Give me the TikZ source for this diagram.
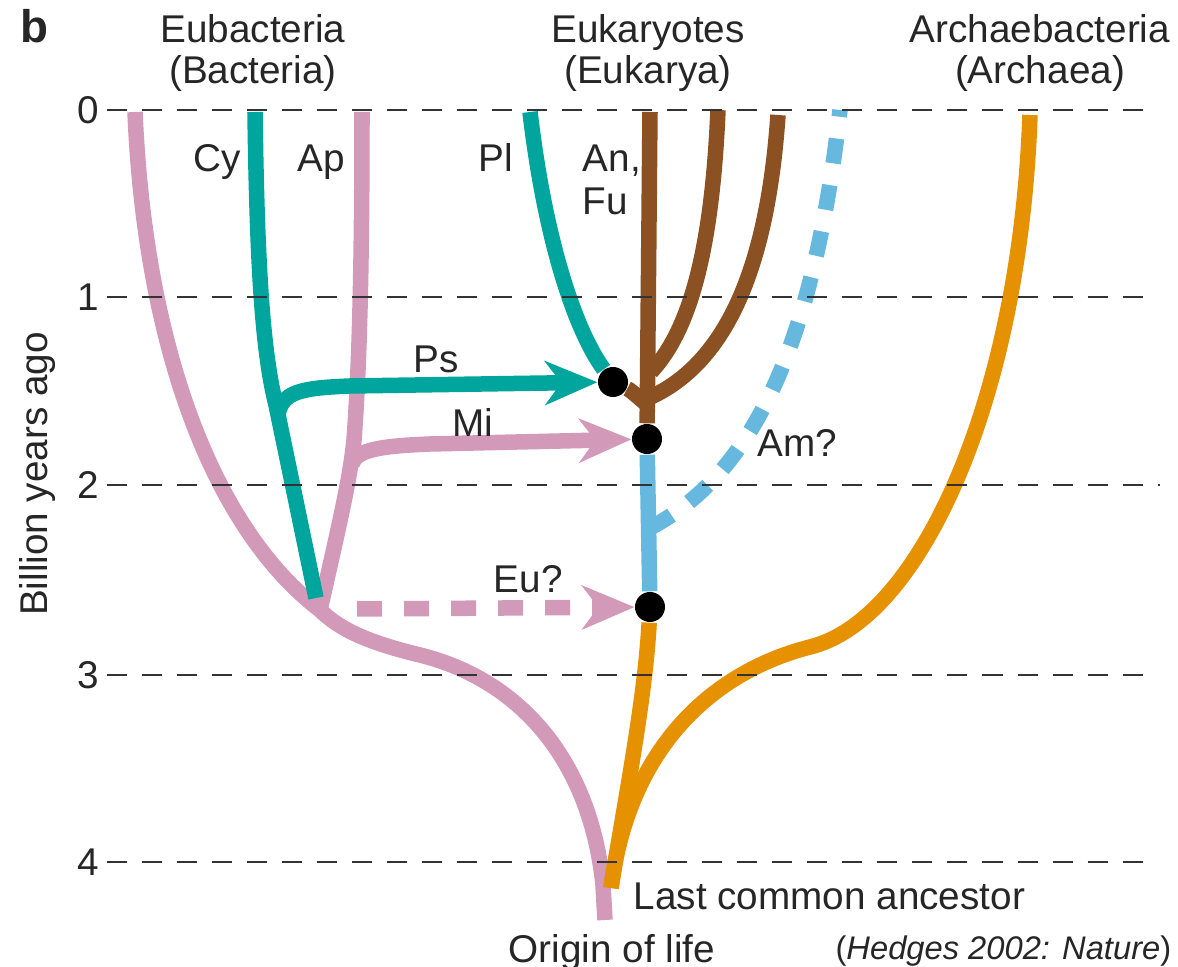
\documentclass[tikz,border=0pt]{standalone}
\usepackage{fontspec}
\setmainfont{Liberation Sans}
\usetikzlibrary{arrows.meta,backgrounds,positioning}
\definecolor{eubpink}{RGB}{210,153,185}
\definecolor{cyteal}{RGB}{0,166,157}
\definecolor{eukbrown}{RGB}{139,81,35}
\definecolor{amblue}{RGB}{102,184,223}
\definecolor{arcorange}{RGB}{230,145,0}
\tikzset{
    %Define standard arrow tip
    >={Stealth[length=0.53cm,width=0.45cm,inset=0.17cm,line width=0pt]},
    %Define style for lineages
    lineage/.style={
           line width=0.155cm},
    dashlineage/.style={
           lineage,
           dash pattern=on 0.25cm off 0.22cm},
    %Define style for fusion dots
    fusion/.style={
           circle,
           fill=black,
           inner sep=0pt,
           minimum size=0.3cm},
    %Define style for texts
    lbl/.style={
           inner sep=0pt,
           text=black!85,
           anchor=base west},
    header/.style={
           inner sep=0pt,
           text=black!85,
           align=center,
           font=\fontsize{11}{11.6}\selectfont},
    tick/.style={
           inner sep=0pt,
           text=black!85,
           anchor=east},
    % Define time line style
    timeline/.style={
           draw=black!80,
           line width=0.55pt,
           dash pattern=on 0.2cm off 0.15cm}
}

\begin{document}
\begin{tikzpicture}[x=0.01cm, y=-0.01cm, font=\fontsize{11}{12.2}\selectfont]
\useasboundingbox (0,0) rectangle (1178,967);

% time axis
\foreach \lev/\ypos/\xend in {0/110/1150, 1/297/1145, 2/485/1160, 3/675/1148, 4/862/1148} {
  \node[tick] (tick\lev) at (100,\ypos) {\lev};
  \draw[timeline] ([xshift=0.07cm]tick\lev.east) -- (\xend,\ypos);
}
\node[inner sep=0pt, text=black!85, rotate=90] (axislbl) at (37,474) {Billion years ago};

% headers
\node[lbl, font=\fontsize{13}{15}\selectfont\bfseries] (panel) at (20,43) {b};
\node[header] (eubact) at (253,53) {Eubacteria\\(Bacteria)};
\node[header] (eukar) at (648,53) {Eukaryotes\\(Eukarya)};
\node[header] (archae) at (1040,53) {Archaebacteria\\(Archaea)};

% branch points
\coordinate (root) at (605,920);
\coordinate (lca) at (611,888);
\coordinate (bac) at (320,610);
\coordinate (eubtip) at (135,112);
\coordinate (aptip) at (362,112);
\coordinate (cytip) at (255,112);
\coordinate (cybend) at (276,405);
\coordinate (cyend) at (316,598);
\coordinate (psfork) at (278,415);
\coordinate (mifork) at (352,464);
\coordinate (eustart) at (357,609);
\coordinate (pltip) at (530,112);
\coordinate (antip) at (650,112);
\coordinate (fungtip) at (718,110);
\coordinate (othtip) at (778,115);
\coordinate (amfork) at (650,528);
\coordinate (amtip) at (840,110);
\coordinate (arcbend) at (810,647);
\coordinate (arctip) at (1030,115);

% fusion events
\node[fusion] (psdot) at (613,382) {};
\node[fusion] (midot) at (647,439) {};
\node[fusion] (eudot) at (650,607) {};

% labels
\node[lbl] (cy) at (193,172) {Cy};
\node[lbl] (ap) at (297,172) {Ap};
\node[lbl] (pl) at (478,172) {Pl};
\node[lbl, anchor=north west, align=left] (anfu) at (582,144) {An,\\Fu};
\node[lbl] (ps) at (413,373) {Ps};
\node[lbl] (mi) at (452,437) {Mi};
\node[lbl] (eu) at (493,593) {Eu?};
\node[lbl] (am) at (757,457) {Am?};
\node[lbl] (lcalbl) at (633,910) {Last common ancestor};
\node[lbl] (originlbl) at (508,962) {Origin of life};
\node[lbl, anchor=base east, font=\fontsize{9.3}{11}\selectfont] (cite) at (1172,960) {(\textit{Hedges 2002: Nature})};

\begin{scope}[on background layer]
% Eubacteria
\draw[lineage, eubpink] (root) -- (603,885) .. controls (590,760) and (520,680) .. (420,655)
      .. controls (370,643) and (340,630) .. (bac) .. controls (215,530) and (145,350) .. (eubtip);
\draw[lineage, eubpink] (bac) .. controls (338,530) and (350,480) .. (354,440)
      .. controls (360,360) and (362,250) .. (aptip);
\draw[lineage, eubpink, ->] (mifork) .. controls (356,450) and (380,446) .. (430,444) -- (midot);
\draw[dashlineage, eubpink, ->] (eustart) -- (eudot);
\draw[lineage, cyteal] (cytip) .. controls (257,260) and (262,350) .. (cybend) -- (cyend);
\draw[lineage, cyteal, ->] (psfork) .. controls (282,392) and (300,388) .. (350,386) -- (psdot);
% Eukaryotes
\draw[lineage, cyteal] (pltip) .. controls (545,240) and (575,330) .. (psdot);
\draw[lineage, eukbrown] (antip) -- (midot);
\draw[lineage, eukbrown] (fungtip) .. controls (712,250) and (690,330) .. (651,372);
\draw[lineage, eukbrown] (othtip) .. controls (768,260) and (730,360) .. (651,397);
\draw[lineage, eukbrown] (psdot) .. controls (630,390) .. (651,408);
\draw[lineage, amblue] (midot) -- (eudot);
\draw[dashlineage, amblue] (amfork) .. controls (760,470) and (815,330) .. (amtip);
% Archaebacteria
\draw[lineage, arcorange] (eudot) .. controls (645,700) and (625,800) .. (lca);
\draw[lineage, arcorange] (lca) .. controls (630,740) and (720,670) .. (arcbend)
      .. controls (920,620) and (1020,400) .. (arctip);
\end{scope}
\end{tikzpicture}
\end{document}
